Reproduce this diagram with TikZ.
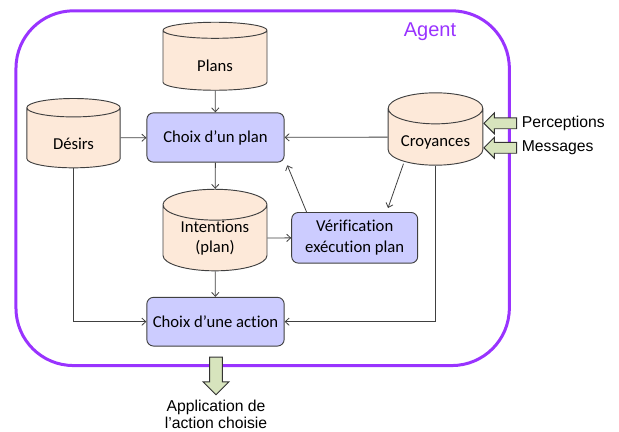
\documentclass[tikz,border=0pt]{standalone}
\usepackage{fontspec}
\setmainfont{Carlito}[Ligatures={TeX,NoCommon}]
\newfontfamily\labelfont{Liberation Sans}
\usetikzlibrary{positioning}
\usetikzlibrary{shapes.geometric}
\usetikzlibrary{shapes.arrows}
\usetikzlibrary{arrows.meta}
\definecolor{agent colour}{RGB}{153,51,255}
\definecolor{store colour}{RGB}{253,233,217}
\definecolor{process colour}{RGB}{204,204,255}
\definecolor{input colour}{RGB}{215,228,189}
\colorlet{line colour}{black!75}
\tikzset{
    % Open arrow heads, as in the original
    >={Straight Barb[length=3pt, width=5.5pt]},
%
    % Fills first
    store fill/.style={fill=store colour},
    process fill/.style={fill=process colour},
    input fill/.style={fill=input colour},
    % Then the lines
    link/.style={color=line colour, line width=0.6pt, ->},
%
    % Box texts are always centred
    every node/.style={align=center},
}

\begin{document}
\begin{tikzpicture}[
    x=0.75pt, y=-0.75pt,
    % the strut pushes the text below the top lid
    store/.style={
        cylinder, shape border rotate=90, aspect=0.45, draw=line colour,
        store fill, line width=0.7pt, inner sep=0,
        font=\fontsize{12.5}{15.5}\selectfont,
        execute at begin node={\rule{0pt}{17pt}}},
    process/.style={
        rectangle, rounded corners=5pt, draw=line colour, process fill,
        line width=0.7pt, inner sep=0, font=\fontsize{12.5}{15.5}\selectfont},
    % the shaft width comes from the inner sep of the empty node
    input/.style={
        single arrow, draw=black!80, input fill, line width=0.7pt},
    outside text/.style={font=\labelfont\fontsize{11.8}{13.2}\selectfont},
]

\useasboundingbox (0,0) rectangle (619,432);

% The agent frame goes underneath everything
\node [draw=agent colour, line width=2.25pt, rounded corners=43pt,
    minimum width=370pt, minimum height=266pt, inner sep=0] (agent)
    at (262.65,188.2) {};
\node [text=agent colour, font=\labelfont\fontsize{15}{18}\selectfont]
    (agent label) at (430,32) {Agent};

% Stores
\node [store, minimum width=78pt, minimum height=51pt] (plans)
    at (215,60.5) {Plans};
\node [store, minimum width=70pt, minimum height=52pt] (desirs)
    at (73.5,138) {Désirs};
\node [store, minimum width=71pt, minimum height=52pt] (croyances)
    at (435.5,137) {Croyances};
\node [store, minimum width=78pt, minimum height=58pt] (intentions)
    at (215,238) {Intentions\\(plan)};

% Processes
\node [process, minimum width=103pt, minimum height=37pt] (choix plan)
    at (215.5,137.5) {Choix d’un plan};
\node [process, minimum width=94.5pt, minimum height=38pt] (verif)
    at (354.7,237.8) {Vérification\\exécution plan};
\node [process, minimum width=103pt, minimum height=36.5pt] (choix action)
    at (215.5,321.7) {Choix d’une action};

% Links between them
\draw [link] (plans) -- (choix plan);
\draw [link] (desirs) -- (choix plan);
\draw [link] (croyances) -- (choix plan);
\draw [link] (choix plan) -- (intentions);
\draw [link] (intentions) -- (verif);
\draw [link] (intentions) -- (choix action);
\draw [link] ([xshift=11.5pt]verif.north west)
    -- ([xshift=2pt,yshift=-2pt]choix plan.south east);
\draw [link] ([xshift=-24pt,yshift=1.5pt]croyances.south)
    -- ([xshift=25pt,yshift=3pt]verif.north);
\draw [link] (desirs.south) |- (choix action.west);
\draw [link] (croyances.south) |- (choix action.east);

% Inputs and output
\foreach \ypos/\name/\txt in {123.3/perceptions/Perceptions, 147.8/messages/Messages}
{
    \node [input, shape border rotate=180, inner sep=3.75pt,
        minimum height=24.5pt, single arrow head extend=3.75pt]
        (\name\space arrow) at (503,\ypos) {};
    \node [outside text, right=0pt of \name\space arrow] (\name) {\txt};
}
\node [input, shape border rotate=270, inner sep=4.4pt,
    minimum height=28.3pt, single arrow head extend=5pt] (apply arrow)
    at (216,372.8) {};
\node [outside text, inner ysep=0.5pt, below=2.5pt of apply arrow]
    (application) {Application de\\l’action choisie};

\end{tikzpicture}
\end{document}
